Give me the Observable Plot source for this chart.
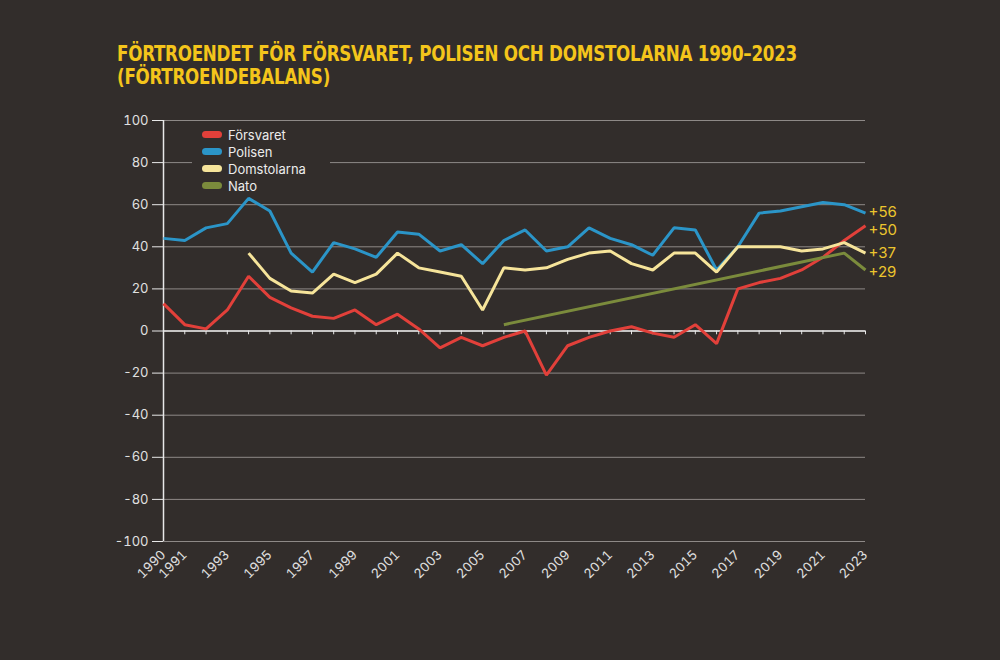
<!DOCTYPE html>
<html><head><meta charset="utf-8">
<script src="https://cdn.jsdelivr.net/npm/d3@7"></script>
<script src="https://cdn.jsdelivr.net/npm/@observablehq/plot@0.6"></script>
<style>
html,body{margin:0;padding:0;background:#322d2b;}
#wrap{position:relative;width:1000px;height:660px;overflow:hidden;background:#322d2b;}
#chart{position:absolute;left:0;top:0;}
#title{position:absolute;left:117px;top:42px;font-family:"DejaVu Sans Condensed","Liberation Sans Narrow",sans-serif;font-weight:bold;font-size:22px;line-height:23px;color:#f4c51b;letter-spacing:-0.3px;white-space:nowrap;transform-origin:0 0;}
#legend{position:absolute;left:192px;top:125px;width:138px;height:70px;background:#322d2b;font-family:Inter,sans-serif;font-size:13px;color:#ececec;}
.item{position:absolute;left:10px;height:17px;display:flex;align-items:center;}
.sw{width:20px;height:7px;border-radius:4px;margin-right:6px;}
</style>
</head><body>
<div id="wrap">
<div id="chart"></div>
<div id="title">FÖRTROENDET FÖR FÖRSVARET, POLISEN OCH DOMSTOLARNA 1990–2023<br>(FÖRTROENDEBALANS)</div>
<div id="legend"></div>
</div>
<script>
const years = d3.range(1990, 2024);
const forsvaret = [13,3,1,10,26,16,11,7,6,10,3,8,1,-8,-3,-7,-3,0,-21,-7,-3,0,2,-1,-3,3,-6,20,23,25,29,35,43,50];
const polisen = [44,43,49,51,63,57,37,28,42,39,35,47,46,38,41,32,43,48,38,40,49,44,41,36,49,48,29,40,56,57,59,61,60,56];
const domYears = d3.range(1994, 2024);
const domstolarna = [37,25,19,18,27,23,27,37,30,28,26,10,30,29,30,34,37,38,32,29,37,37,28,40,40,40,38,39,42,37];
const natoYears = [2006, 2022, 2023];
const nato = [3, 37, 29];
const seriesNames = ["Försvaret", "Polisen", "Domstolarna", "Nato"];
const seriesColors = ["#e2403a", "#2b95c8", "#f6e49a", "#7b8b3c"];
const yTicks = d3.range(-100, 101, 20);
const xLabelYears = [1990, ...d3.range(1991, 2024, 2)];
const endLabels = ["+56", "+50", "+37", "+29"];
const endValues = [56, 50, 37, 29];
const endNudge = [-1, 4, 0, 2];

const rows = [
  ...years.map((y, i) => ({year: y, value: forsvaret[i], s: "Försvaret"})),
  ...years.map((y, i) => ({year: y, value: polisen[i], s: "Polisen"})),
  ...domYears.map((y, i) => ({year: y, value: domstolarna[i], s: "Domstolarna"})),
  ...natoYears.map((y, i) => ({year: y, value: nato[i], s: "Nato"}))
];
const labels = endLabels.map((t, i) => ({t, v: endValues[i], n: endNudge[i]}));

const chart = Plot.plot({
  width: 1000, height: 660,
  marginLeft: 163, marginRight: 135, marginTop: 120, marginBottom: 119,
  x: {domain: [1990, 2023]},
  y: {domain: [-100, 100]},
  color: {domain: seriesNames, range: seriesColors},
  style: {background: "transparent", color: "#e0e0e0", fontFamily: "Inter, sans-serif", fontSize: "13px"},
  marks: [
    Plot.ruleY(yTicks, {stroke: "#8e8987", strokeWidth: 1}),
    Plot.ruleY([0], {stroke: "#e8e8e8", strokeWidth: 1.5}),
    Plot.ruleX(years, {x: d => d, y1: 0, y2: -1.8, stroke: "#e8e8e8", strokeWidth: 1}),
    Plot.ruleX([1990], {y1: -100, y2: 100, stroke: "#e8e8e8", strokeWidth: 1.5}),
    Plot.axisY({ticks: yTicks, tickSize: 11, tickPadding: 4, tickFormat: d => String(d), stroke: "#e8e8e8", fill: "#e0e0e0", label: null}),
    Plot.axisX({ticks: xLabelYears, tickSize: 0, tickPadding: 11, tickRotate: -45, tickFormat: d => String(d), fill: "#e0e0e0", label: null}),
    Plot.line(rows, {x: "year", y: "value", z: "s", stroke: "s", strokeWidth: 3, strokeLinejoin: "miter", strokeLinecap: "butt"}),
    ...labels.map(l => Plot.text([l], {x: () => 2023, y: "v", text: "t", dx: 3, dy: l.n, textAnchor: "start", fill: "#ecc52e", fontSize: 15}))
  ]
});
document.getElementById("chart").appendChild(chart);

const legend = document.getElementById("legend");
seriesNames.forEach((n, i) => {
  const it = document.createElement("div");
  it.className = "item";
  it.style.top = (1 + i * 17) + "px";
  it.innerHTML = `<span class="sw" style="background:${seriesColors[i]}"></span><span>${n}</span>`;
  legend.appendChild(it);
});

const title = document.getElementById("title");
const w = title.getBoundingClientRect().width;
title.style.transform = `scaleX(${680 / w})`;
</script>
</body></html>
